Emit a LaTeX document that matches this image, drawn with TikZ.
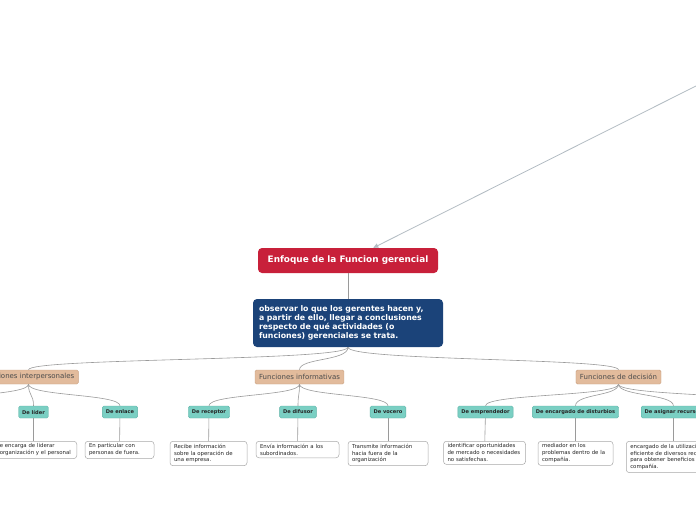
\documentclass[tikz,border=0pt]{standalone}
\usepackage{fontspec}
\setmainfont{DejaVu Sans}
\usetikzlibrary{arrows.meta}
\definecolor{redc}{HTML}{C8203A}
\definecolor{bluec}{HTML}{1B4379}
\definecolor{tanc}{HTML}{E2BB9C}
\definecolor{tanb}{HTML}{C9A080}
\definecolor{tealc}{HTML}{7ACFC3}
\definecolor{tealb}{HTML}{5DB3A7}
\definecolor{linec}{HTML}{9A9A9A}
\definecolor{arrowc}{HTML}{B3BCC3}
\definecolor{boxb}{HTML}{A8A8A8}
\tikzset{
  redbox/.style={fill=redc, text=white, rounded corners=4pt, minimum width=180pt, minimum height=25pt, inner sep=0pt, font=\bfseries\fontsize{8.9}{10}\selectfont},
  bluebox/.style={fill=bluec, text=white, rounded corners=4pt, minimum width=190pt, minimum height=48pt, text width=178pt, align=left, inner sep=0pt, font=\bfseries\fontsize{7.8}{9.2}\selectfont},
  tanbox/.style={fill=tanc, draw=tanb, line width=0.4pt, rounded corners=1.5pt, text=black!70, minimum height=14pt, inner xsep=4pt, inner ysep=0pt, font=\fontsize{7}{8}\selectfont},
  tealbox/.style={fill=tealc, draw=tealb, line width=0.4pt, rounded corners=1.5pt, text=black!85, minimum height=12pt, inner xsep=3.5pt, inner ysep=0pt, font=\bfseries\fontsize{5.1}{6}\selectfont},
  textbox/.style={fill=white, draw=boxb, line width=0.5pt, rounded corners=3pt, anchor=north, align=left, inner xsep=4pt, inner ysep=2.6pt, font=\fontsize{5.4}{6.9}\selectfont, text=black!85},
  conn/.style={draw=linec, line width=0.6pt},
  leaf/.style={draw=linec, line width=0.6pt},
}
\begin{document}
\begin{tikzpicture}[x=1pt,y=-1pt]
\useasboundingbox (0,0) rectangle (696,520);
\clip (0,0) rectangle (696,520);
\fill[white] (0,0) rectangle (696,520);

% main nodes
\node[redbox] (root) at (348,260.5) {Enfoque de la Funcion gerencial};
\node[bluebox] (main) at (348,323) {observar lo que los gerentes hacen y,\\a partir de ello, llegar a conclusiones\\respecto de qué actividades (o\\funciones) gerenciales se trata.};
\coordinate (src) at (700,84);
\draw[arrowc, line width=0.8pt, -{Triangle[length=5pt,width=4.5pt]}] (src) -- (root);
\draw[conn] (root) -- (main);

% level 2
\node[tanbox] (inter) at (28.5,377) {Funciones interpersonales};
\node[tanbox] (info) at (299.5,377) {Funciones informativas};
\node[tanbox] (deci) at (618.5,377) {Funciones de decisión};
\foreach \t in {inter,info,deci}
  \draw[conn] (main.south) .. controls +(0,14) and +(0,-12) .. (\t.north);

% level 3
\node[tealbox] (lider) at (33.5,412) {De líder};
\node[tealbox] (enlace) at (120,412) {De enlace};
\node[tealbox] (recep) at (209,412) {De receptor};
\node[tealbox] (difus) at (298,412) {De difusor};
\node[tealbox] (voce) at (388,412) {De vocero};
\node[tealbox] (empre) at (485.5,412) {De emprendedor};
\node[tealbox] (distu) at (575.5,412) {De encargado de disturbios};
\node[tealbox, anchor=west] (asig) at (641,412) {De asignar recursos};
\coordinate (offl) at (-70,406);
\coordinate (offr) at (790,406);

\foreach \t in {lider,enlace} \draw[conn] (inter.south) .. controls +(0,12) and +(0,-12) .. (\t.north);
\draw[conn] (inter.south) .. controls +(0,12) and +(0,-12) .. (offl);
\foreach \t in {recep,difus,voce} \draw[conn] (info.south) .. controls +(0,12) and +(0,-12) .. (\t.north);
\foreach \t in {empre,distu,asig} \draw[conn] (deci.south) .. controls +(0,12) and +(0,-12) .. (\t.north);
\draw[conn] (deci.south) .. controls +(0,12) and +(0,-12) .. (offr);

% level 4
\node[textbox, text width=73pt, anchor=north east] (tlider) at (77,441) {e encarga de liderar\\organización y el personal};
\node[textbox, text width=61pt] (tenlace) at (119.5,441) {En particular con\\personas de fuera.};
\node[textbox, text width=69pt] (trecep) at (208.5,441) {Recibe información\\sobre la operación de\\una empresa.};
\node[textbox, text width=75pt] (tdifus) at (297.5,441) {Envía información a los\\subordinados.};
\node[textbox, text width=72pt] (tvoce) at (388,441) {Transmite información\\hacia fuera de la\\organización};
\node[textbox, text width=74pt] (tempre) at (484.5,441) {identificar oportunidades\\de mercado o necesidades\\no satisfechas.};
\node[textbox, text width=67pt] (tdistu) at (575.5,441) {mediador en los\\problemas dentro de la\\compañía.};
\node[textbox, text width=100pt, anchor=north west] (tasig) at (626,441) {encargado de la utilización\\eficiente de diversos recursos\\para obtener beneficios para la\\compañía.};

\draw[leaf] (lider) -- (tlider.north -| lider);
\draw[leaf] (enlace) -- (tenlace);
\draw[leaf] (recep) -- (trecep);
\draw[leaf] (difus) -- (tdifus);
\draw[leaf] (voce) -- (tvoce);
\draw[leaf] (empre) -- (tempre);
\draw[leaf] (distu) -- (tdistu);
\draw[leaf] (asig.south) -- (asig.south |- tasig.north);
\end{tikzpicture}
\end{document}
